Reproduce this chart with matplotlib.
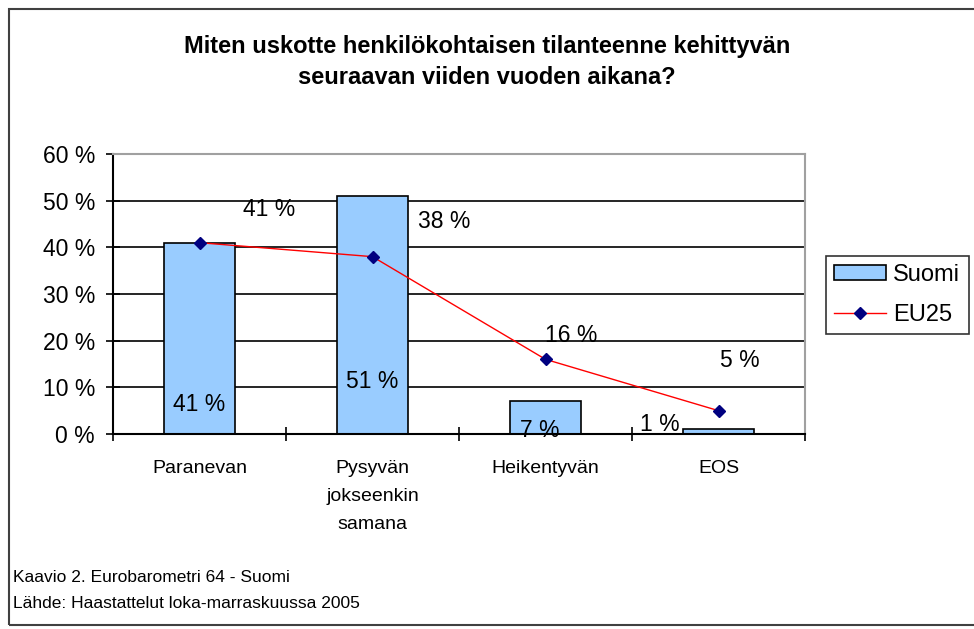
import numpy as np
from matplotlib import pyplot as plt
from matplotlib.patches import Rectangle

categories = ["Paranevan", "Pysyvän\njokseenkin\nsamana", "Heikentyvän", "EOS"]
suomi = [41, 51, 7, 1]
eu25 = [41, 38, 16, 5]

title = "Miten uskotte henkilökohtaisen tilanteenne kehittyvän\nseuraavan viiden vuoden aikana?"
notes = ["Kaavio 2. Eurobarometri 64 - Suomi", "Lähde: Haastattelut loka-marraskuussa 2005"]

# label offsets in pixels (Excel put them rather oddly)
eu_off = [(70, 33), (72, 35), (26, 24), (21, 50)]
fi_off = [(0, -162), (0, -186), (-6, -29), (-59, 5)]

plt.rcParams['font.family'] = ['Liberation Sans', 'DejaVu Sans']

fig = plt.figure(figsize=(9.74, 6.29), dpi=100)
W, H = 974, 629

# outer frame
fig.patches.append(Rectangle((9 / W, 4 / H), 1.2, (625 - 9) / H, transform=fig.transFigure,
                             fill=False, edgecolor='#404040', lw=1.5))

ax = fig.add_axes([113 / W, 1 - 434 / H, (805 - 113) / W, (434 - 154) / H])
x = np.arange(len(categories))

ax.set_xlim(-0.5, len(categories) - 0.5)
ax.set_ylim(0, 60)
ax.set_yticks(range(0, 61, 10))
ax.set_yticklabels([f"{v} %" for v in range(0, 61, 10)], fontsize=16.5)
for v in range(10, 60, 10):
    ax.axhline(v, color='black', lw=1.2, zorder=0)

bars = ax.bar(x, suomi, width=0.41, color='#99CCFF', edgecolor='black', lw=1.2, zorder=2, label='Suomi')
line, = ax.plot(x, eu25, color='red', lw=1, marker='D', markersize=6.5, markerfacecolor='#000080',
                markeredgecolor='#000080', zorder=3, label='EU25')

for i in range(len(categories)):
    ax.annotate(f"{eu25[i]} %", (x[i], eu25[i]), xytext=eu_off[i], textcoords='offset pixels',
                ha='center', va='center', fontsize=16.5, zorder=4)
    ax.annotate(f"{suomi[i]} %", (x[i], suomi[i]), xytext=fi_off[i], textcoords='offset pixels',
                ha='center', va='center', fontsize=16.5, zorder=4)

ax.set_xticks(np.arange(-0.5, len(categories), 1))
ax.set_xticklabels([])
ax.set_xticks(x, minor=True)
ax.set_xticklabels(categories, minor=True, fontsize=14, linespacing=1.85, va='top')
ax.tick_params(axis='x', which='minor', length=0, pad=19)
ax.tick_params(axis='x', which='major', direction='inout', length=10, width=1.2)
ax.tick_params(axis='y', direction='inout', length=10, width=1.2, pad=8)

for s in ['top', 'right']:
    ax.spines[s].set_color('#a0a0a0')
    ax.spines[s].set_linewidth(1.5)
for s in ['left', 'bottom']:
    ax.spines[s].set_linewidth(1.5)

fig.text(0.5, 1 - 62 / H, title, ha='center', va='center', fontsize=17, fontweight='bold',
         linespacing=1.5)

fig.text(13 / W, 1 - 578 / H, notes[0], fontsize=12.5, va='center')
fig.text(13 / W, 1 - 604 / H, notes[1], fontsize=12.5, va='center')

leg = ax.legend([bars, line], ['Suomi', 'EU25'], loc='upper left',
                bbox_to_anchor=(826 / W, 1 - 256 / H), bbox_transform=fig.transFigure,
                fontsize=17, frameon=True, fancybox=False, edgecolor='black', borderpad=0.35,
                handlelength=2.2, handleheight=0.6, handletextpad=0.3, labelspacing=0.75,
                borderaxespad=0)
leg.get_frame().set_linewidth(1.2)

fig.savefig("out.png", dpi=100)
